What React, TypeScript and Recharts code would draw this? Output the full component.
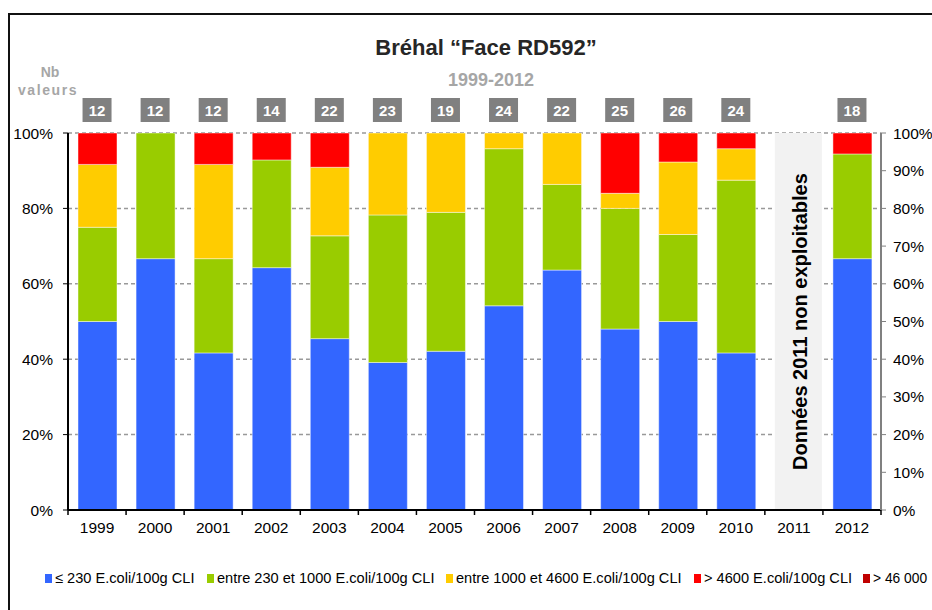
import React from 'react';
import { BarChart, Bar, XAxis, YAxis, CartesianGrid } from 'recharts';

const years = ['1999', '2000', '2001', '2002', '2003', '2004', '2005', '2006', '2007', '2008', '2009', '2010', '2011', '2012'];
const nbValeurs = ['12', '12', '12', '14', '22', '23', '19', '24', '22', '25', '26', '24', '', '18'];
const le230 = [6, 8, 5, 9, 10, 9, 8, 13, 14, 12, 13, 10, 0, 12];
const c230to1000 = [3, 4, 3, 4, 6, 9, 7, 10, 5, 8, 6, 11, 0, 5];
const c1000to4600 = [2, 0, 3, 0, 4, 5, 4, 1, 3, 1, 5, 2, 0, 0];
const gt4600 = [1, 0, 1, 1, 2, 0, 0, 0, 0, 4, 2, 1, 0, 1];
const gt46000 = [0, 0, 0, 0, 0, 0, 0, 0, 0, 0, 0, 0, 0, 0];
const nonExploitable = [0, 0, 0, 0, 0, 0, 0, 0, 0, 0, 0, 0, 100, 0];
const leftTicks = [0, 20, 40, 60, 80, 100];
const rightTicks = [0, 10, 20, 30, 40, 50, 60, 70, 80, 90, 100];

const series = [
  { key: 'b', name: '≤ 230 E.coli/100g CLI', color: '#3366FF', values: le230, legendWidth: 162 },
  { key: 'g', name: 'entre 230 et 1000 E.coli/100g CLI', color: '#99CC00', values: c230to1000, legendWidth: 239 },
  { key: 'y', name: 'entre 1000 et 4600 E.coli/100g CLI', color: '#FFCC00', values: c1000to4600, legendWidth: 248 },
  { key: 'r', name: '> 4600 E.coli/100g CLI', color: '#FF0000', values: gt4600, legendWidth: 169 },
  { key: 'dr', name: '> 46 000', color: '#C00000', values: gt46000, legendWidth: 62 },
];

const data = years.map((year, i) => {
  const total = series.reduce((s, se) => s + se.values[i], 0);
  const row: any = { year, nb: nbValeurs[i], nd: nonExploitable[i] };
  series.forEach((se) => {
    row[se.key] = total > 0 ? (se.values[i] / total) * 100 : 0;
  });
  return row;
});

const FONT = '"Liberation Sans", Arial, sans-serif';

const TopTick = (props: any) => {
  const { x, y, payload } = props;
  const label = nbValeurs[years.indexOf(payload.value)];
  if (!label) return <g />;
  const axisY = y + 8;
  return (
    <g>
      <rect x={x - 14.5} y={axisY - 35} width={29} height={24} fill="#808080" />
      <text x={x} y={axisY - 17.5} textAnchor="middle" fill="#ffffff" fontSize={15} fontWeight="bold" fontFamily={FONT}>
        {label}
      </text>
    </g>
  );
};

const BottomTick = (props: any) => {
  const { x, y, payload, index } = props;
  const half = payload && payload.offset ? payload.offset : 29;
  const axisY = y - 8;
  return (
    <g>
      <line x1={x - half} x2={x - half} y1={axisY} y2={axisY + 5} stroke="#000" strokeWidth={1.5} />
      {index === years.length - 1 && (
        <line x1={x + half} x2={x + half} y1={axisY} y2={axisY + 5} stroke="#000" strokeWidth={1.5} />
      )}
      <text x={x} y={axisY + 23} textAnchor="middle" fill="#000" fontSize={15.5} fontFamily={FONT}>
        {payload.value}
      </text>
    </g>
  );
};

const NdShape = (props: any) => {
  const { x, y, width, height } = props;
  if (!height || height <= 0) return <g />;
  const w = width + 8;
  const cx = x + w / 2 + 2;
  const cy = y + height / 2;
  return (
    <g>
      <rect x={x} y={y} width={w} height={height} fill="#F2F2F2" />
      <text
        x={cx}
        y={cy}
        transform={`rotate(-90 ${cx} ${cy})`}
        textAnchor="middle"
        dominantBaseline="central"
        fontSize={20}
        fontWeight="bold"
        fill="#000"
        fontFamily={FONT}
      >
        Données 2011 non exploitables
      </text>
    </g>
  );
};

export default function App() {
  return (
    <div style={{ position: 'absolute', left: 0, top: 0, width: 932, height: 610, overflow: 'hidden', background: '#fff', fontFamily: FONT }}>
      <div style={{ position: 'absolute', left: 8, top: 13, width: 1200, height: 900, borderTop: '2px solid #111', borderLeft: '2px solid #111' }} />
      <div style={{ position: 'absolute', left: 0, top: 0 }}>
        <BarChart width={1000} height={610} data={data} margin={{ top: 93, left: 8, right: 59, bottom: 70 }} barSize={39}>
          <CartesianGrid xAxisId="x" yAxisId="left" vertical={false} stroke="#999" strokeDasharray="4 3" strokeWidth={1.5} />
          <XAxis
            xAxisId="top"
            orientation="top"
            dataKey="year"
            height={40}
            axisLine={false}
            tickLine={false}
            tickSize={6}
            tickMargin={2}
            interval={0}
            tick={<TopTick />}
          />
          <XAxis
            xAxisId="x"
            dataKey="year"
            height={30}
            axisLine={{ stroke: '#000', strokeWidth: 2 }}
            tickLine={false}
            tickSize={6}
            tickMargin={2}
            interval={0}
            tick={<BottomTick />}
          />
          <YAxis
            yAxisId="left"
            domain={[0, 100]}
            allowDataOverflow
            ticks={leftTicks}
            tickFormatter={(v: number) => `${v}%`}
            width={60}
            axisLine={{ stroke: '#000', strokeWidth: 2 }}
            tickLine={{ stroke: '#000' }}
            tickSize={5}
            tickMargin={10}
            tick={{ fill: '#000', fontSize: 15.5, fontFamily: FONT }}
          />
          <YAxis
            yAxisId="right"
            orientation="right"
            domain={[0, 100]}
            allowDataOverflow
            ticks={rightTicks}
            tickFormatter={(v: number) => `${v}%`}
            width={60}
            axisLine={{ stroke: '#808080', strokeWidth: 2 }}
            tickLine={{ stroke: '#808080' }}
            tickSize={5}
            tickMargin={7}
            tick={{ fill: '#000', fontSize: 15.5, fontFamily: FONT, textAnchor: 'start' }}
          />
          {series.map((se) => (
            <Bar
              key={se.key}
              dataKey={se.key}
              name={se.name}
              stackId="s"
              xAxisId="x"
              yAxisId="left"
              fill={se.color}
              stroke="rgba(255,255,255,0.45)"
              strokeWidth={1}
              isAnimationActive={false}
            />
          ))}
          <Bar dataKey="nd" stackId="s" xAxisId="x" yAxisId="left" shape={<NdShape />} isAnimationActive={false} />
        </BarChart>
      </div>
      <svg width={932} height={130} style={{ position: 'absolute', left: 0, top: 0, pointerEvents: 'none' }}>
        <text x={486} y={55} textAnchor="middle" fontSize={22} fontWeight="bold" fill="#262626" fontFamily={FONT}>
          Bréhal “Face RD592”
        </text>
        <text x={491} y={86} textAnchor="middle" fontSize={18} fontWeight="bold" fill="#A6A6A6" fontFamily={FONT}>
          1999-2012
        </text>
        <text x={50} y={77} textAnchor="middle" fontSize={14} fontWeight="bold" fill="#A6A6A6" fontFamily={FONT}>
          Nb
        </text>
        <text x={48} y={95} textAnchor="middle" fontSize={14} fontWeight="bold" fill="#A6A6A6" letterSpacing={1.6} fontFamily={FONT}>
          valeurs
        </text>
      </svg>
      <div style={{ position: 'absolute', left: 45, top: 570, display: 'flex', alignItems: 'center', whiteSpace: 'nowrap', fontSize: 14.6, color: '#000' }}>
        {series.map((se) => (
          <div key={se.key} style={{ display: 'flex', alignItems: 'center', width: se.legendWidth, flex: 'none' }}>
            <span style={{ display: 'inline-block', width: 7, height: 9, background: se.color, marginRight: 3, flex: 'none' }} />
            <span style={se.key === 'dr' ? { fontSize: 13.8 } : undefined}>{se.name}</span>
          </div>
        ))}
      </div>
    </div>
  );
}
